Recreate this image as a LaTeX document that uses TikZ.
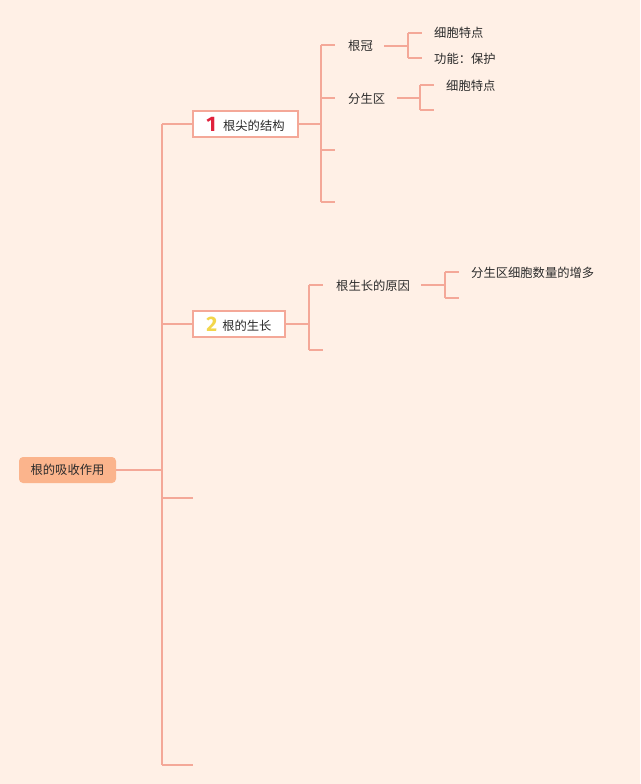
\documentclass[tikz,border=0pt]{standalone}
\usepackage{fontspec}
\setmainfont{Noto Sans CJK SC}
\newfontfamily\numfont{Fira Sans}
\definecolor{bg}{HTML}{FFF0E6}
\definecolor{ln}{HTML}{F4A898}
\definecolor{rootfill}{HTML}{FBB48C}
\definecolor{txt}{HTML}{2B2B2B}
\definecolor{numred}{HTML}{E0213C}
\definecolor{numyel}{HTML}{F2D64B}
\begin{document}
\begin{tikzpicture}[x=1pt,y=-1pt,
  conn/.style={draw=ln,line width=1.2pt},
  lbl/.style={text=txt,font=\fontsize{12.3}{14}\selectfont,inner sep=0pt,anchor=west},
  topicbox/.style={draw=ln,line width=1.2pt,fill=white,minimum height=26pt,inner sep=0pt,text=txt,font=\fontsize{12.3}{14}\selectfont},
  rootbox/.style={fill=rootfill,rounded corners=4pt,minimum width=97pt,minimum height=26pt,inner sep=0pt,text=txt,font=\fontsize{12.3}{14}\selectfont}]
\fill[bg] (0,0) rectangle (640,784);
\useasboundingbox (0,0) rectangle (640,784);

% root
\node[rootbox] (root) at (67.5,470) {根的吸收作用};
\coordinate (t0) at (162,470);
\coordinate (ttop) at (162,124);
\coordinate (tbot) at (162,765);
\draw[conn] (root.east) -- (t0);
\draw[conn] (ttop) -- (tbot);

% topic boxes
\node[topicbox,minimum width=105pt] (b1) at (245.5,124) {\raisebox{-1pt}{\numfont\fontsize{21}{21}\selectfont\bfseries\color{numred}1}\hspace{7pt}根尖的结构};
\node[topicbox,minimum width=92pt] (b2) at (239,324) {\raisebox{-1pt}{\numfont\fontsize{21}{21}\selectfont\bfseries\color{numyel}2}\hspace{5pt}根的生长};
\coordinate (s3) at (193,498);
\coordinate (s4) at (193,765);
\draw[conn] (ttop) -- (b1.west);
\draw[conn] (162,324) -- (b2.west);
\draw[conn] (162,498) -- (s3);
\draw[conn] (tbot) -- (s4);

% branch 1
\coordinate (v1) at (321,124);
\coordinate (v1a) at (321,45);
\coordinate (v1d) at (321,202);
\draw[conn] (b1.east) -- (v1);
\draw[conn] (v1a) -- (v1d);
\coordinate (e1a) at (335,45);
\coordinate (e1b) at (335,98);
\coordinate (e1c) at (335,150);
\coordinate (e1d) at (335,202);
\draw[conn] (v1a) -- (e1a);
\draw[conn] (321,98) -- (e1b);
\draw[conn] (321,150) -- (e1c);
\draw[conn] (v1d) -- (e1d);

\node[lbl] (gg) at (348,46) {根冠};
\node[lbl] (fsq) at (348,99) {分生区};

% 根冠 children
\coordinate (g0) at (408,46);
\draw[conn] (384,46) -- (g0);
\draw[conn] (408,33) -- (408,58);
\draw[conn] (408,33) -- (422,33);
\draw[conn] (408,58) -- (422,58);
\node[lbl] (gg1) at (434,33) {细胞特点};
\node[lbl] (gg2) at (434,59) {功能：保护};

% 分生区 children
\draw[conn] (397,98) -- (420,98);
\draw[conn] (420,85) -- (420,110);
\draw[conn] (420,85) -- (434,85);
\draw[conn] (420,110) -- (434,110);
\node[lbl] (fs1) at (446,86) {细胞特点};

% branch 2
\coordinate (v2) at (309,324);
\draw[conn] (b2.east) -- (v2);
\draw[conn] (309,285) -- (309,350);
\draw[conn] (309,285) -- (323,285);
\draw[conn] (309,350) -- (323,350);
\node[lbl] (yy) at (336,286) {根生长的原因};
\draw[conn] (421,285) -- (445,285);
\draw[conn] (445,272) -- (445,298);
\draw[conn] (445,272) -- (459,272);
\draw[conn] (445,298) -- (459,298);
\node[lbl] (yy1) at (471,273) {分生区细胞数量的增多};
\end{tikzpicture}
\end{document}
